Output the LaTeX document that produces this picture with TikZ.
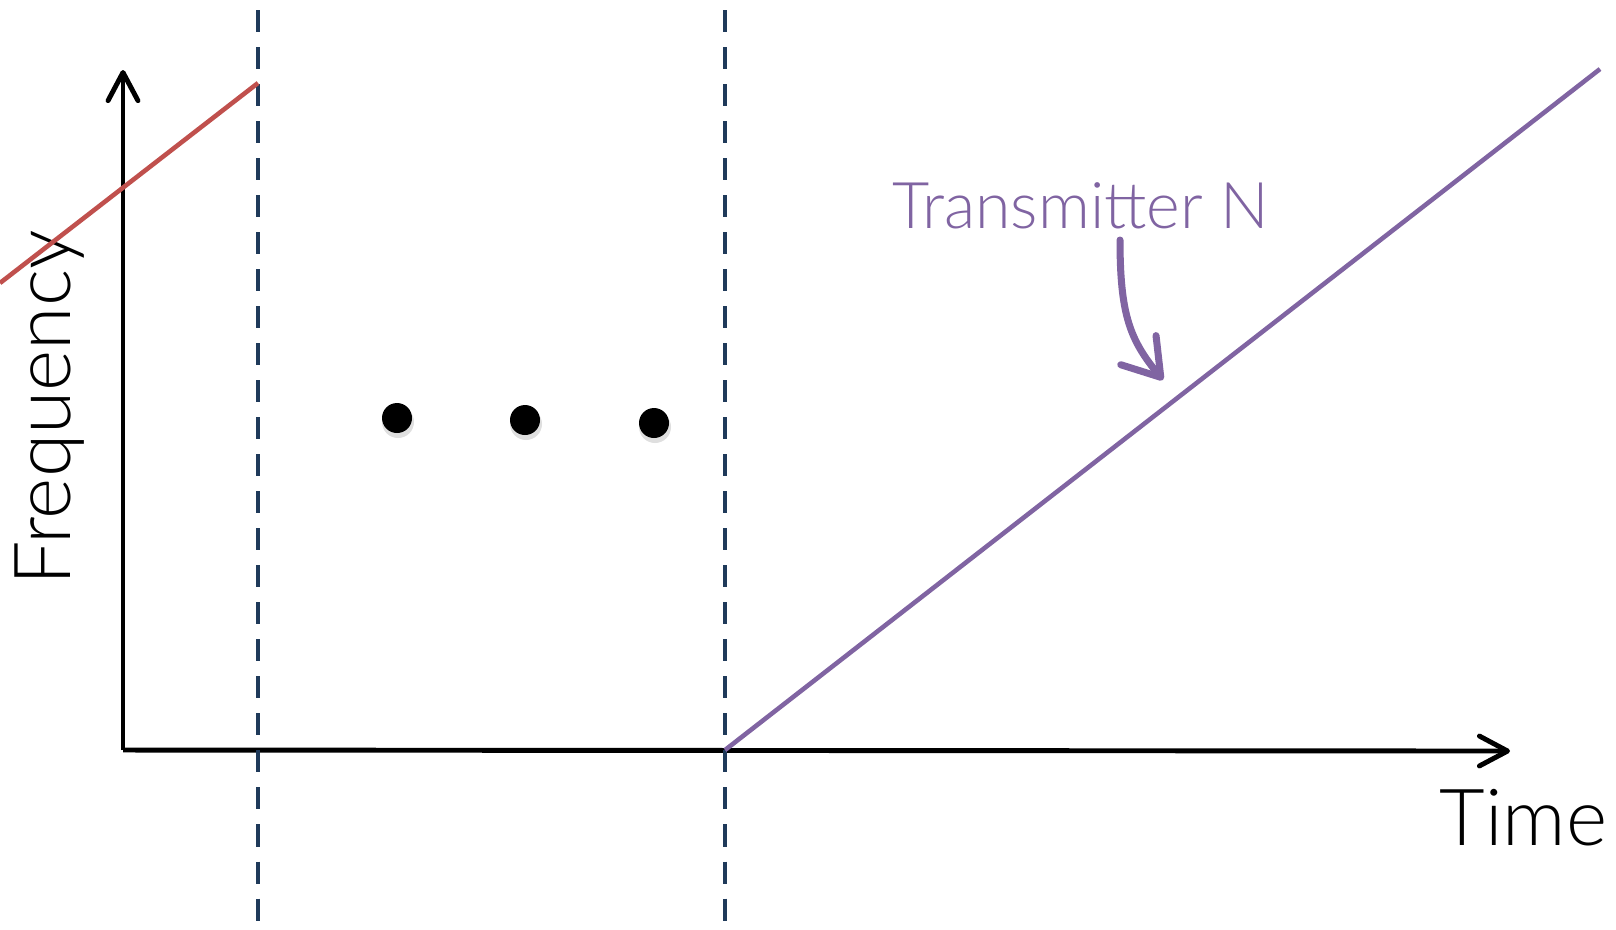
\documentclass[tikz,border=0pt]{standalone}
\usepackage{fontspec}
\setmainfont{Lato Light}
\usepackage{xcolor}
\usepackage{tikz}
\usetikzlibrary{arrows.meta,positioning,calc}
\definecolor{redx}{HTML}{C0504D}
\definecolor{purplex}{HTML}{8064A2}
\definecolor{navyx}{HTML}{1F3A5A}

\begin{document}
\begin{tikzpicture}[x=0.01cm, y=-0.01cm,
  axis/.style={line width=1.4pt, -{Straight Barb[length=8pt, width=8.5pt, round]}},
  slot/.style={navyx, line width=1.35pt, dash pattern=on 0.22cm off 0.15cm},
  chirp/.style={line width=1.3pt},
  lbl/.style={inner sep=0pt, font=\fontsize{22.4}{26}\selectfont}]
\useasboundingbox (0,0) rectangle (1616,929);
% axes
\coordinate (O) at (123,750);
\coordinate (ytip) at (123,70);
\coordinate (xtip) at (1510,751);
\draw[axis] (O) -- (ytip);
\draw[axis] (O) -- (xtip);
\node[lbl, rotate=90, anchor=base] (freq) at (70,408) {Frequency};
\node[lbl, anchor=base west] (time) at (1439,845) {Time};
% slot borders
\coordinate (s1top) at (258,10);
\coordinate (s1bot) at (258,929);
\coordinate (s2top) at (725,10);
\coordinate (s2bot) at (725,929);
\draw[slot] (s1top) -- (s1bot);
\draw[slot] (s2top) -- (s2bot);
% chirps
\coordinate (r0) at (0,283);
\coordinate (r1) at (258,83);
\draw[chirp, redx] (r0) -- (r1);
\coordinate (p0) at (725,750);
\coordinate (p1) at (1600,69);
\draw[chirp, purplex] (p0) -- (p1);
% dots
\foreach \x/\y in {397/418, 525/420, 654/423} {
  \fill[gray!25] (\x+1,\y+4) circle (16);
  \fill[black] (\x,\y) circle (15);
}
% label
\node[lbl, purplex, font=\fontsize{18.3}{22}\selectfont, anchor=base west] (tn) at (892,228) {Transmitter N};
\coordinate (tnfoot) at (1120,240);
\coordinate (tnhit) at (1163,380);
\draw[purplex, line width=2pt, line cap=round, -{Straight Barb[length=10pt, width=13pt, round]}]
  (tnfoot) .. controls (1120,315) and (1130,340) .. (tnhit);
\end{tikzpicture}
\end{document}
